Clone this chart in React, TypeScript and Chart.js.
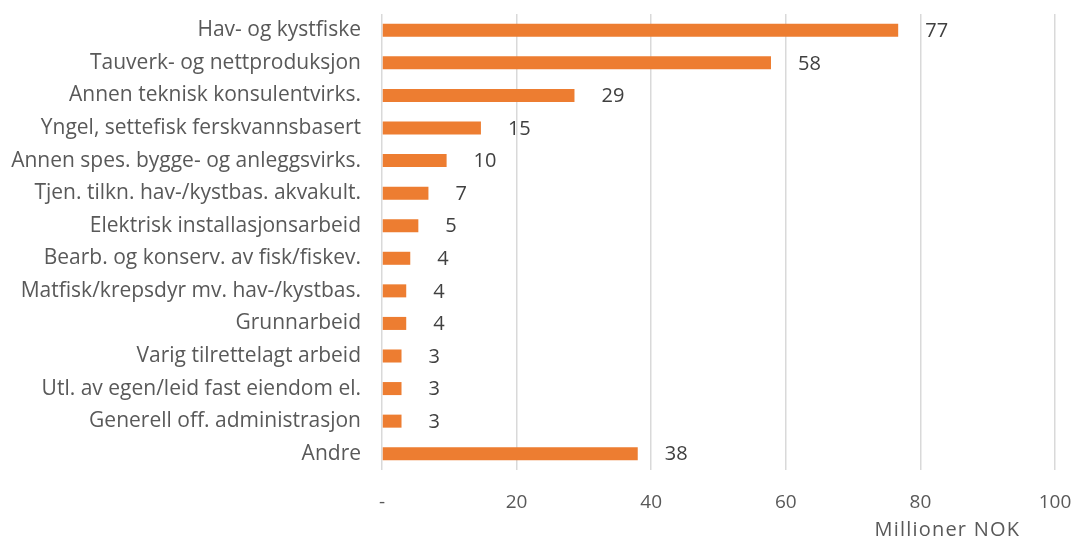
import React, { useEffect, useRef } from "react";
import { Chart, registerables } from "chart.js";

Chart.register(...registerables);

const categories = [
  "Hav- og kystfiske",
  "Tauverk- og nettproduksjon",
  "Annen teknisk konsulentvirks.",
  "Yngel, settefisk ferskvannsbasert",
  "Annen spes. bygge- og anleggsvirks.",
  "Tjen. tilkn. hav-/kystbas. akvakult.",
  "Elektrisk installasjonsarbeid",
  "Bearb. og konserv. av fisk/fiskev.",
  "Matfisk/krepsdyr mv. hav-/kystbas.",
  "Grunnarbeid",
  "Varig tilrettelagt arbeid",
  "Utl. av egen/leid fast eiendom el.",
  "Generell off. administrasjon",
  "Andre",
];

const values = [76.7, 57.8, 28.6, 14.7, 9.6, 6.9, 5.4, 4.2, 3.6, 3.6, 2.9, 2.9, 2.9, 38.0];

const valueLabels = ["77", "58", "29", "15", "10", "7", "5", "4", "4", "4", "3", "3", "3", "38"];

const xTickValues = [0, 20, 40, 60, 80, 100];
const xTickLabels = ["-", "20", "40", "60", "80", "100"];

const axisTitle = "Millioner NOK";

const FONT = "'Open Sans', sans-serif";

export default function App() {
  const ref = useRef<HTMLCanvasElement | null>(null);

  useEffect(() => {
    if (!ref.current) return;
    const labelPlugin = {
      id: "valueLabels",
      afterDatasetsDraw(chart: any) {
        const ctx = chart.ctx;
        const meta = chart.getDatasetMeta(0);
        ctx.save();
        ctx.fillStyle = "#404040";
        ctx.font = `20px ${FONT}`;
        ctx.textAlign = "left";
        ctx.textBaseline = "middle";
        meta.data.forEach((bar: any, i: number) => {
          ctx.fillText(valueLabels[i], bar.x + 27, bar.y + 1);
        });
        ctx.restore();
      },
      afterDraw(chart: any) {
        const ctx = chart.ctx;
        const xs = chart.scales.x;
        ctx.save();
        ctx.fillStyle = "#595959";
        ctx.font = `20px ${FONT}`;
        try {
          (ctx as any).letterSpacing = "1.2px";
        } catch (e) {}
        ctx.textAlign = "center";
        ctx.textBaseline = "middle";
        ctx.fillText(axisTitle, xs.getPixelForValue(84), chart.chartArea.bottom + 60);
        ctx.restore();
      },
    };

    const chart = new Chart(ref.current, {
      type: "bar",
      data: {
        labels: categories,
        datasets: [
          {
            data: values,
            backgroundColor: "#ED7D31",
            barPercentage: 0.4,
            categoryPercentage: 1,
          },
        ],
      },
      options: {
        indexAxis: "y",
        animation: false,
        responsive: true,
        maintainAspectRatio: false,
        layout: { padding: { top: 14, right: 28, bottom: 0, left: 0 } },
        plugins: {
          legend: { display: false },
          tooltip: { enabled: false },
        },
        scales: {
          x: {
            min: 0,
            max: 100,
            afterBuildTicks(scale: any) {
              scale.ticks = xTickValues.map((v) => ({ value: v }));
            },
            afterFit(scale: any) {
              scale.height = 75;
              scale.paddingLeft = 0;
              scale.paddingRight = 0;
            },
            grid: { color: "#d9d9d9", lineWidth: 1.5, drawTicks: false },
            border: { display: false },
            ticks: {
              padding: 21,
              color: "#595959",
              font: { family: FONT, size: 19 },
              callback: (v: any) => {
                const i = xTickValues.indexOf(Number(v));
                return i >= 0 ? xTickLabels[i] : "";
              },
            },
          },
          y: {
            afterFit(scale: any) {
              scale.width = 382;
              scale.paddingTop = 0;
              scale.paddingBottom = 0;
            },
            grid: { display: false, drawTicks: false },
            border: { display: false },
            ticks: {
              padding: 21,
              color: "#595959",
              font: { family: FONT, size: 21 },
              autoSkip: false,
            },
          },
        },
      },
      plugins: [labelPlugin],
    });
    return () => chart.destroy();
  }, []);

  return (
    <div style={{ position: "fixed", left: 0, top: 0, width: 1083, height: 545, background: "#fff" }}>
      <canvas ref={ref} />
    </div>
  );
}
